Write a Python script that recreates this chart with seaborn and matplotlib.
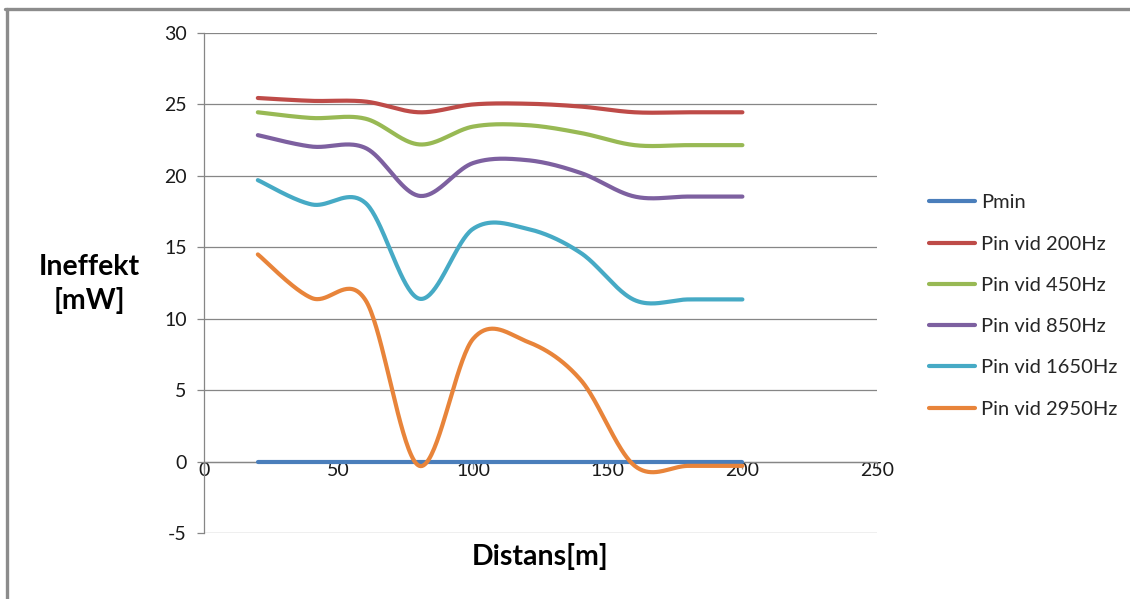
import numpy as np
import pandas as pd
import matplotlib
matplotlib.use("Agg")
import matplotlib.pyplot as plt
from matplotlib.lines import Line2D
import seaborn as sns

# Measured input power versus distance for several frequencies
distance = [20, 40, 60, 80, 100, 120, 140, 160, 180, 200]
p_min = [0, 0, 0, 0, 0, 0, 0, 0, 0, 0]
pin_200 = [25.45, 25.25, 25.2, 24.45, 25.0, 25.05, 24.85, 24.45, 24.45, 24.45]
pin_450 = [24.45, 24.05, 24.0, 22.2, 23.45, 23.55, 23.0, 22.15, 22.15, 22.15]
pin_850 = [22.85, 22.05, 21.95, 18.6, 20.9, 21.1, 20.2, 18.55, 18.55, 18.55]
pin_1650 = [19.7, 18.0, 18.1, 11.4, 16.3, 16.3, 14.6, 11.3, 11.35, 11.35]
pin_2950 = [14.5, 11.45, 11.3, -0.3, 8.6, 8.4, 5.7, -0.3, -0.3, -0.3]

series_names = ["Pmin", "Pin vid 200Hz", "Pin vid 450Hz", "Pin vid 850Hz",
                "Pin vid 1650Hz", "Pin vid 2950Hz"]
series_values = [p_min, pin_200, pin_450, pin_850, pin_1650, pin_2950]
colors = ["#4A7EBB", "#BE4B48", "#98B954", "#7D60A0", "#46AAC5", "#E8843A"]

x_ticks = [0, 50, 100, 150, 200, 250]
y_ticks = [-5, 0, 5, 10, 15, 20, 25, 30]


def smooth_curve(xs, ys, n=40):
    """Cubic Bezier smoothing through every point (Catmull-Rom style)."""
    pts = np.column_stack([xs, ys]).astype(float)
    ext = np.vstack([pts[0], pts, pts[-1]])
    segs = []
    last = len(pts) - 2
    for i in range(len(pts) - 1):
        p0, p1, p2, p3 = ext[i], ext[i + 1], ext[i + 2], ext[i + 3]
        c1 = p1 + (p2 - p0) / 6.0
        c2 = p2 - (p3 - p1) / 6.0
        t = np.linspace(0, 1, n, endpoint=(i == last))[:, None]
        seg = ((1 - t) ** 3) * p1 + 3 * ((1 - t) ** 2) * t * c1 \
            + 3 * (1 - t) * (t ** 2) * c2 + (t ** 3) * p2
        segs.append(seg)
    return np.vstack(segs)


frames = []
for name, vals in zip(series_names, series_values):
    curve = smooth_curve(distance, vals)
    frames.append(pd.DataFrame({"Distans": curve[:, 0],
                                "Effekt": curve[:, 1],
                                "Serie": name}))
df = pd.concat(frames, ignore_index=True)

sns.set_theme(style="white")
plt.rcParams["font.family"] = ["Lato", "DejaVu Sans"]

W, H = 1130, 599
fig = plt.figure(figsize=(W / 100, H / 100), dpi=100)
ax = fig.add_axes([204 / W, 66 / H, 673 / W, 500 / H])

grey = "#868686"
sns.lineplot(data=df, x="Distans", y="Effekt", hue="Serie",
             hue_order=series_names, palette=colors, sort=False,
             estimator=None, linewidth=3.0, legend=False, ax=ax,
             solid_capstyle="round")
# keep the data lines above the axis line at zero
for ln in ax.lines:
    ln.set_zorder(3)

ax.set_xlim(0, 250)
ax.set_ylim(-5, 30)
ax.set_xticks(x_ticks)
ax.set_yticks(y_ticks)
ax.set_xticklabels([str(v) for v in x_ticks])
ax.set_yticklabels([str(v) for v in y_ticks])

ax.set_axisbelow(True)
ax.yaxis.grid(True, color=grey, linewidth=0.9)
ax.xaxis.grid(False)

for side in ["top", "right"]:
    ax.spines[side].set_visible(False)
ax.spines["bottom"].set_position(("data", 0))
ax.spines["bottom"].set_color(grey)
ax.spines["bottom"].set_linewidth(0.9)
ax.spines["left"].set_color(grey)
ax.spines["left"].set_linewidth(0.9)

ax.tick_params(axis="x", direction="out", length=5, width=0.9, color=grey,
               pad=-4.5, labelsize=14, labelcolor="#1a1a1a", bottom=True)
ax.tick_params(axis="y", direction="out", length=5, width=0.9, color=grey,
               pad=7.5, labelsize=14, labelcolor="#1a1a1a", left=True)

ax.set_xlabel("Distans[m]", fontsize=20.5, fontweight="bold", color="black",
              va="center")
ax.xaxis.set_label_coords(0.499, -0.048)
ax.set_ylabel("Ineffekt\n[mW]", fontsize=20.5, fontweight="bold",
              color="black", rotation=0, ha="center", va="center",
              linespacing=1.35)
ax.yaxis.set_label_coords((89 - 204) / 673, (533 - 284) / 500)

handles = [Line2D([0], [0], color=c, lw=3.0, solid_capstyle="round")
           for c in colors]
fig.legend(handles, series_names, loc="center left",
           bbox_to_anchor=(929 / W, (H - 306) / H), frameon=False,
           fontsize=14.5, handlelength=2.3, handletextpad=0.28,
           labelspacing=1.2, borderpad=0, borderaxespad=0)

# Chart frame (left and top edges)
fig.add_artist(Line2D([6.5 / W, 6.5 / W], [0, (H - 8.5) / H],
                      transform=fig.transFigure, color="#8c8c8c", lw=2.4))
fig.add_artist(Line2D([5.3 / W, 1.0], [(H - 8.5) / H, (H - 8.5) / H],
                      transform=fig.transFigure, color="#8c8c8c", lw=2.4))

fig.savefig("out.png", dpi=100, facecolor="white")
